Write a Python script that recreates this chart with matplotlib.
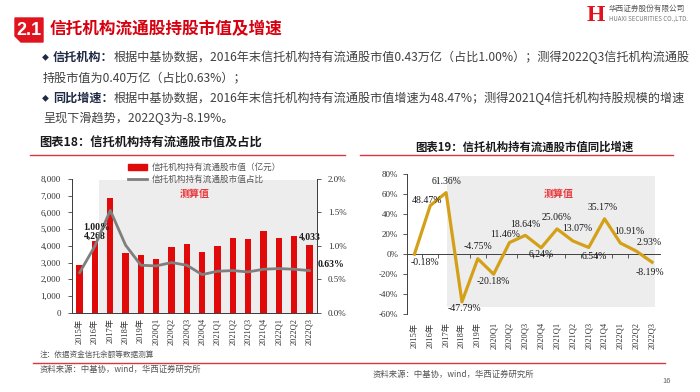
import matplotlib.pyplot as plt
import matplotlib.patches as mpatches
from matplotlib.lines import Line2D
import numpy as np

plt.rcParams['font.family'] = ['Noto Sans CJK SC', 'DejaVu Sans']
SERIF = ['Liberation Serif', 'Noto Sans CJK SC']

# ---- data ----
categories = ['2015年', '2016年', '2017年', '2018年', '2019年', '2020Q1', '2020Q2', '2020Q3',
              '2020Q4', '2021Q1', '2021Q2', '2021Q3', '2021Q4', '2022Q1', '2022Q2', '2022Q3']
market_value = [2860, 4268, 6880, 3590, 3430, 3190, 3930, 4130,
                3610, 3990, 4450, 4390, 4900, 4450, 4580, 4033]      # 亿元
share_pct = [0.60, 1.00, 1.53, 1.01, 0.71, 0.70, 0.75, 0.71,
             0.57, 0.62, 0.63, 0.61, 0.65, 0.66, 0.65, 0.63]          # %
yoy_pct = [-0.18, 48.47, 61.36, -47.79, -4.75, -20.18, 11.46, 18.64,
           6.24, 25.06, 13.07, 6.54, 35.17, 10.91, 2.93, -8.19]      # %

left_ticks = [0, 1000, 2000, 3000, 4000, 5000, 6000, 7000, 8000]
right_ticks = [0, 0.5, 1.0, 1.5, 2.0]
yoy_ticks = [-60, -40, -20, 0, 20, 40, 60, 80]

# label offsets (pixels) for the yoy line
yoy_offsets = [(11, -8), (-3, 5), (0, 11), (2, -7), (0, 12), (0, -7), (-4, 8), (0, 11),
               (0, -7), (0, 11), (4, 12), (6, -9), (-2, 11), (9, 12), (13, 9), (-2, -10)]

RED = '#E00A0A'
GOLD = '#D4A017'

fig = plt.figure(figsize=(7, 3.92), dpi=100)

# background axes in pixel coords
bg = fig.add_axes([0, 0, 1, 1])
bg.set_xlim(0, 700)
bg.set_ylim(392, 0)
bg.axis('off')

# ---- header ----
bg.add_patch(mpatches.Polygon([(15, 18), (43, 18), (43, 42), (21, 42), (15, 36)],
                              closed=True, color='#E0141E'))
bg.text(29, 30, '2.1', color='white', weight='bold', fontsize=13, ha='center', va='center',
        family=['Liberation Sans', 'DejaVu Sans'])
bg.text(50, 29, '信托机构流通股持股市值及增速', color='#D7000F', weight='bold',
        fontsize=12, va='center')

# logo
bg.text(596, 15, 'H', color='#E0141E', weight='bold', fontsize=17, ha='center', va='center',
        family=['Liberation Serif'])
bg.text(609, 9, '华西证券股份有限公司', color='#555555', fontsize=5.5, va='center')
bg.text(609, 19, 'HUAXI SECURITIES CO.,LTD.', color='#777777', fontsize=4.4, va='center')

# bullets
TXT = '#404040'
BOLD = '#1F2A44'
FS = 8.7


def chain(x, y, parts):
    prev = None
    for s, w in parts:
        if prev is None:
            prev = bg.text(x, y, s, fontsize=FS, weight=w, va='center',
                           color=BOLD if w == 'bold' else TXT)
        else:
            prev = bg.annotate(s, xy=(1, 0.5), xycoords=prev, fontsize=FS, weight=w,
                               va='center', ha='left', color=BOLD if w == 'bold' else TXT)


bg.text(45, 57, '◆', fontsize=5, color=BOLD, ha='center', va='center')
chain(53, 57, [('信托机构：', 'bold'),
               ('根据中基协数据，2016年末信托机构持有流通股市值0.43万亿（占比1.00%）；测得2022Q3信托机构流通股', 'normal')])
chain(43, 77.5, [('持股市值为0.40万亿（占比0.63%）；', 'normal')])
bg.text(45, 98, '◆', fontsize=5, color=BOLD, ha='center', va='center')
chain(53, 98, [('同比增速：', 'bold'),
               ('根据中基协数据，2016年末信托机构持有流通股市值增速为48.47%；测得2021Q4信托机构持股规模的增速', 'normal')])
chain(43, 118.5, [('呈现下滑趋势，2022Q3为-8.19%。', 'normal')])

# chart titles and separators
bg.text(39, 143, '图表18：信托机构持有流通股市值及占比', fontsize=8.8, weight='bold',
        color='#1A1A1A', va='center')
bg.text(415, 147, '图表19：信托机构持有流通股市值同比增速', fontsize=8.2, weight='bold',
        color='#1A1A1A', va='center')
bg.plot([30, 345], [154.5, 154.5], color='#D9363E', lw=1)
bg.plot([360, 673], [154.5, 154.5], color='#D9363E', lw=1)
bg.plot([33, 665], [362.7, 362.7], color='#D9363E', lw=1)

bg.text(40, 355, '注：依据资金信托余额等数据测算', fontsize=5.5, color='#555555',
        style='italic', va='center')
bg.text(40, 369, '资料来源：中基协，wind，华西证券研究所', fontsize=6, color='#555555',
        style='italic', va='center')
bg.text(373, 374, '资料来源：中基协，wind，华西证券研究所', fontsize=6, color='#555555',
        style='italic', va='center')
bg.text(667, 381, '16', fontsize=5.5, color='#666666', ha='center', va='center')

# ---- left chart ----
x = np.arange(len(categories))
ax = fig.add_axes([72 / 700, 1 - 312.7 / 392, 245 / 700, 133.7 / 392])
ax.axvspan(1.28, 15.5, ymin=0, ymax=0.995, color='#EDEDED', lw=0, zorder=0)
bars = ax.bar(x, market_value, width=0.42, color=RED, zorder=2)
ax.set_xlim(-0.5, 15.5)
ax.set_ylim(0, 8000)
ax.set_yticks(left_ticks)
ax.set_yticklabels([f'{v:,}' for v in left_ticks], family=SERIF, fontsize=6.5, color='#333333')
ax.set_xticks(x)
ax.set_xticklabels(categories, rotation=90, family=SERIF, fontsize=6, color='#333333')
ax.tick_params(axis='x', length=0, pad=4)
ax.tick_params(axis='y', length=3, width=0.6, pad=5, direction='out', color='#404040')
ax.spines['top'].set_visible(False)
for s in ['left', 'right', 'bottom']:
    ax.spines[s].set_color('#404040')
    ax.spines[s].set_linewidth(0.7)
ax.text(0.5, 0.89, '测算值', transform=ax.transAxes, color='#E8363A', weight='bold',
        fontsize=7.2, ha='center', va='center')

ax2 = ax.twinx()
line, = ax2.plot(x, share_pct, color='#7F7F7F', lw=2, zorder=3)
ax2.set_ylim(0, 2)
ax2.set_yticks(right_ticks)
ax2.set_yticklabels([f'{v:.1f}%' for v in right_ticks], family=SERIF, fontsize=6.5, color='#333333')
ax2.tick_params(axis='y', length=3, width=0.6, pad=5, direction='out', color='#404040')
ax2.spines['top'].set_visible(False)
for s in ['left', 'right', 'bottom']:
    ax2.spines[s].set_color('#404040')
    ax2.spines[s].set_linewidth(0.7)

lbl = dict(family=SERIF, fontsize=7, weight='bold', color='#1A1A1A', ha='center', va='center',
           textcoords='offset pixels')
ax2.annotate(f'{share_pct[1]:.2f}%', xy=(x[1], share_pct[1]), xytext=(2, 18), **lbl)
ax.annotate(f'{market_value[1]:,}', xy=(x[1], market_value[1]), xytext=(0, 5), **lbl)
ax.annotate(f'{market_value[-1]:,}', xy=(x[-1], market_value[-1]), xytext=(0, 8), **lbl)
ax2.annotate(f'{share_pct[-1]:.2f}%', xy=(x[-1], share_pct[-1]), xytext=(22, 6), **lbl)

fig.legend([mpatches.Patch(color=RED), Line2D([], [], color='#7F7F7F', lw=2)],
           ['信托机构持有流通股市值（亿元）', '信托机构持有流通股市值占比'],
           loc='upper left', bbox_to_anchor=(120 / 700, 1 - 155 / 392),
           frameon=False, fontsize=6.2, handlelength=2.2, labelspacing=0.35,
           handletextpad=0.6, labelcolor='#555555')

# ---- right chart ----
bx = fig.add_axes([406.5 / 700, 1 - 314 / 392, 253.5 / 700, 140 / 392])
bx.axvspan(2.05, 15.2, ymin=(-53 + 60) / 140, ymax=(78 + 60) / 140, color='#EDEDED', lw=0, zorder=0)
bx.plot(x, yoy_pct, color=GOLD, lw=2.3, zorder=3)
bx.set_xlim(-0.5, 15.5)
bx.set_ylim(-60, 80)
bx.set_yticks(yoy_ticks)
bx.set_yticklabels([f'{v}%' for v in yoy_ticks], family=SERIF, fontsize=6.5, color='#333333')
bx.tick_params(axis='y', length=3, width=0.6, pad=3, direction='out', color='#404040')
bx.set_xticks(x)
bx.set_xticklabels(categories, rotation=90, family=SERIF, fontsize=6, color='#333333')
bx.tick_params(axis='x', length=0, pad=6)
for s in ['top', 'right', 'bottom']:
    bx.spines[s].set_visible(False)
bx.spines['left'].set_color('#404040')
bx.spines['left'].set_linewidth(0.7)

zero = bx.secondary_xaxis(60 / 140)
zero.set_xticks(x[:-1] + 0.5)
zero.tick_params(axis='x', length=3, width=0.6, direction='out', labelbottom=False,
                 color='#404040')
zero.spines['bottom'].set_color('#404040')
zero.spines['bottom'].set_linewidth(0.7)

bx.text(0.6, 0.86, '测算值', transform=bx.transAxes, color='#E8363A', weight='bold',
        fontsize=7.2, ha='center', va='center')

for i, v in enumerate(yoy_pct):
    dx, dy = yoy_offsets[i]
    bx.annotate(f'{v:.2f}%', xy=(x[i], v), xytext=(dx, dy), textcoords='offset pixels',
                family=SERIF, fontsize=7, color='#1A1A1A', ha='center', va='center', zorder=4)

fig.savefig('out.png', dpi=100)
